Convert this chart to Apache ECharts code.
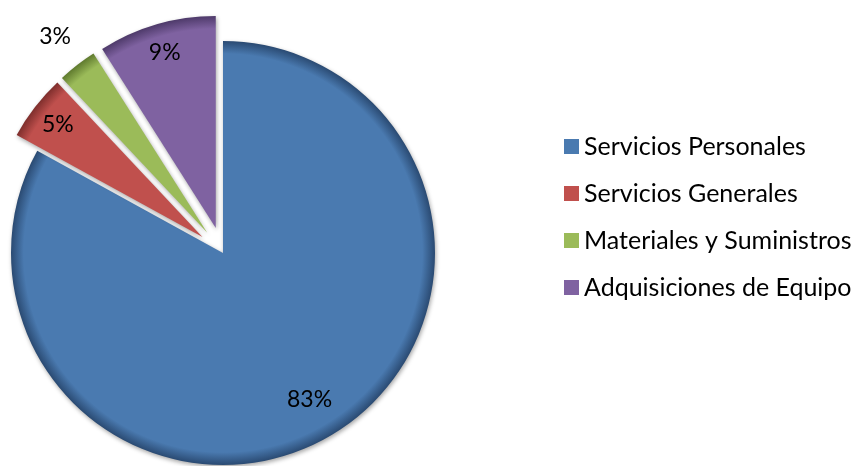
<!DOCTYPE html>
<html>
<head>
<meta charset="utf-8">
<script src="https://cdn.jsdelivr.net/npm/echarts@6/dist/echarts.min.js"></script>
<style>html,body{margin:0;padding:0;background:#fff}#c{width:854px;height:466px}</style>
</head>
<body>
<div id="c"></div>
<script>
const categories = ['Servicios Personales', 'Servicios Generales', 'Materiales y Suministros', 'Adquisiciones de Equipo'];
const values = [83, 5, 3, 9];
const exploded = [false, true, true, true];
const baseColors = ['#4A7AB0', '#C0504D', '#9BBB59', '#7F62A1'];
const rimColors = ['#2A4A72', '#7E2E2C', '#5F7A2E', '#4E3A6A'];
const labelRing = ['mid', 'inner', 'outer', 'inner'];

const CX = 223, CY = 253, R = 212;
const FONT = 'Lato';

function fillFor(i) {
  return {
    type: 'radial', x: CX, y: CY, r: R, global: true,
    colorStops: [
      { offset: 0, color: baseColors[i] },
      { offset: 0.94, color: baseColors[i] },
      { offset: 1, color: rimColors[i] }
    ]
  };
}

const mainData = categories.map((n, i) => ({
  name: n, value: values[i], selected: exploded[i],
  itemStyle: { color: fillFor(i) }
}));

function labelData(ring) {
  return categories.map((n, i) => ({
    name: n, value: values[i], selected: exploded[i],
    label: { show: labelRing[i] === ring }
  }));
}

const common = {
  type: 'pie', center: [CX, CY], startAngle: 90, clockwise: true,
  selectedMode: 'multiple', selectedOffset: 26, animation: false
};

const labelSeries = (ring, radius) => Object.assign({}, common, {
  radius: radius, silent: true,
  itemStyle: { color: 'rgba(0,0,0,0)' },
  select: { itemStyle: { color: 'rgba(0,0,0,0)', borderWidth: 0 } },
  emphasis: { disabled: true },
  label: {
    position: 'inside', color: '#000', fontFamily: FONT, fontSize: 23,
    formatter: p => p.value + '%'
  },
  labelLine: { show: false },
  data: labelData(ring)
});

const chart = echarts.init(document.getElementById('c'), null, { renderer: 'canvas' });
chart.setOption({
  animation: false,
  legend: {
    orient: 'vertical', left: 564, top: 134, padding: 0,
    itemWidth: 15, itemHeight: 15, itemGap: 22,
    icon: 'rect', selectedMode: false,
    textStyle: { fontFamily: FONT, fontSize: 25, color: '#000' },
    data: categories.map((n, i) => ({ name: n, itemStyle: { color: baseColors[i] } }))
  },
  series: [
    Object.assign({}, common, {
      radius: [0, R],
      itemStyle: { borderWidth: 0, shadowColor: 'rgba(0,0,0,0.35)', shadowBlur: 4, shadowOffsetX: 1, shadowOffsetY: 2 },
      select: { itemStyle: { borderWidth: 0 } },
      emphasis: { disabled: true },
      label: { show: false }, labelLine: { show: false },
      data: mainData
    }),
    labelSeries('inner', [170, 190]),
    labelSeries('mid', [158, 176]),
    labelSeries('outer', [236, 254])
  ]
});
</script>
</body>
</html>
